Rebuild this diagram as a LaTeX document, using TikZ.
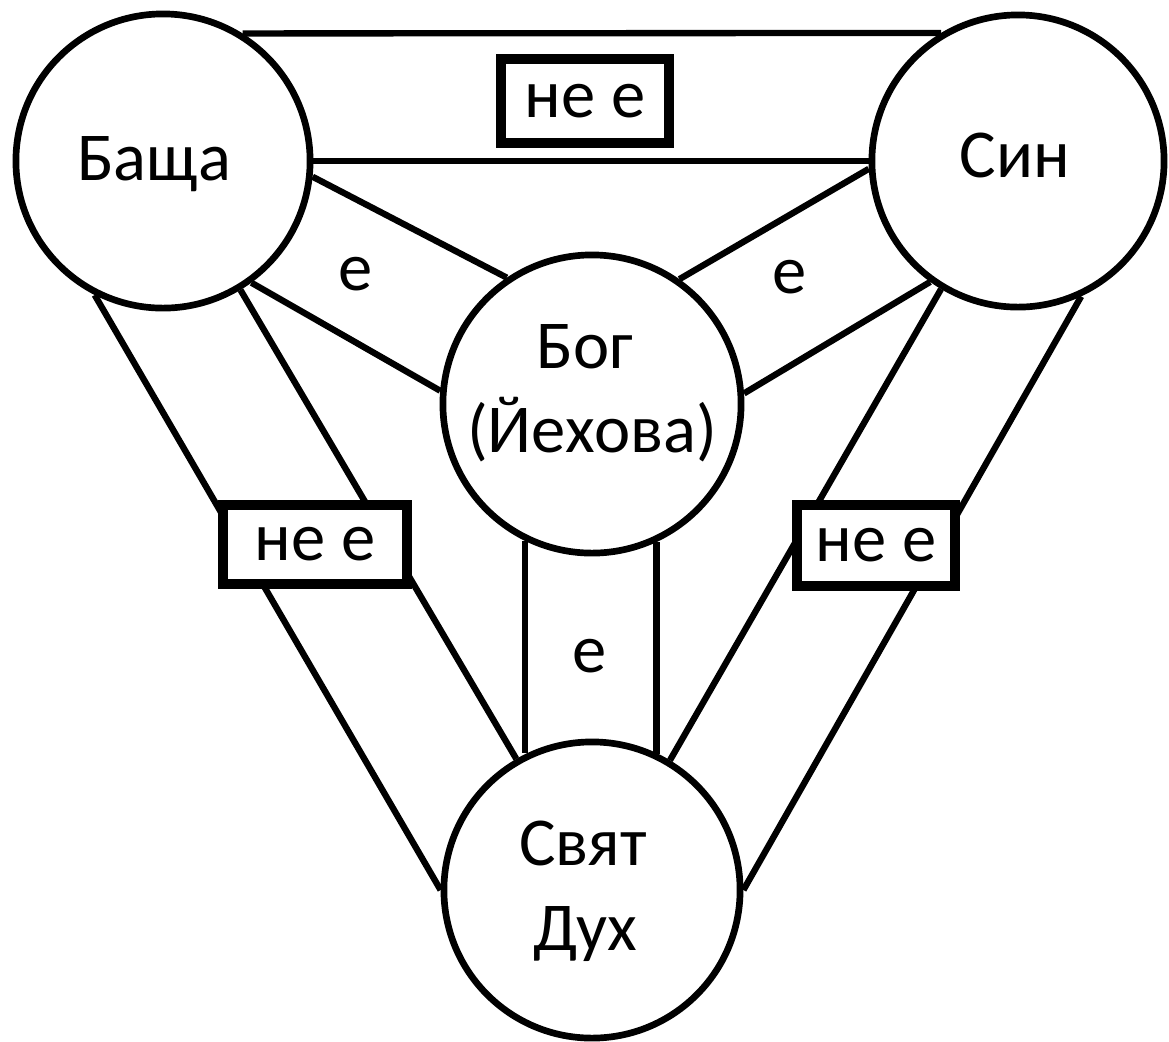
\documentclass[tikz,border=0pt]{standalone}
\usepackage{fontspec}
\setmainfont{Carlito}
\begin{document}
\begin{tikzpicture}[x=0.01cm,y=-0.01cm,
  circ/.style={circle,draw,line width=1.9pt,inner sep=0pt,minimum size=#1},
  band/.style={line width=1.8pt},
  txt/.style={font=\fontsize{19.5}{24}\selectfont,inner sep=0pt,anchor=base},
  nebox/.style={draw,line width=2.7pt,fill=white,inner sep=0pt,
    font=\fontsize{19.5}{24}\selectfont}]
\useasboundingbox (0,0) rectangle (1169,1041);
% circles
\node[circ=2.94cm] (F) at (163,161) {};
\node[circ=2.92cm] (S) at (1018,161) {};
\node[circ=2.98cm] (G) at (592,404) {};
\node[circ=2.96cm] (H) at (592,890) {};
% Father - Son
\draw[band] (F.58) -- (S.121.4);
\draw[band] (F.0) -- (S.180);
% Father - Spirit
\draw[band] (F.243.4) -- (H.180);
\draw[band] (F.301.5) -- (H.120.2);
% Son - Spirit
\draw[band] (S.295.5) -- (H.0);
\draw[band] (S.239.5) -- (H.59.4);
% Father - God
\draw[band] (F.354.3) -- (G.124.9);
\draw[band] (F.306.1) -- (G.175.8);
% Son - God
\draw[band] (S.183.5) -- (G.55.1);
\draw[band] (S.234.2) -- (G.4.6);
% God - Spirit
\draw[band] (G.244.6) -- (G.244.6 |- H.115.7);
\draw[band] (G.295.9) -- (G.295.9 |- H.64);
% "не е" boxes
\node[nebox,minimum width=1.68cm,minimum height=0.84cm] (nFS) at (585,101) {не е};
\node[nebox,minimum width=1.84cm,minimum height=0.79cm] (nFH) at (315,544.5) {не е};
\node[nebox,minimum width=1.58cm,minimum height=0.81cm] (nSH) at (876,545.5) {не е};
% "е" labels
\node[txt] (eFG) at (356,290) {е};
\node[txt] (eSG) at (790,293) {е};
\node[txt] (eGH) at (590,672) {е};
% circle texts
\node[txt] (tF) at (154,180) {Баща};
\node[txt] (tS) at (1015,177) {Син};
\node[txt] (tG1) at (585,368) {Бог};
\node[txt] (tG2) at (592,452) {(Йехова)};
\node[txt] (tH1) at (583,865) {Свят};
\node[txt] (tH2) at (585,950) {Дух};
\end{tikzpicture}
\end{document}
